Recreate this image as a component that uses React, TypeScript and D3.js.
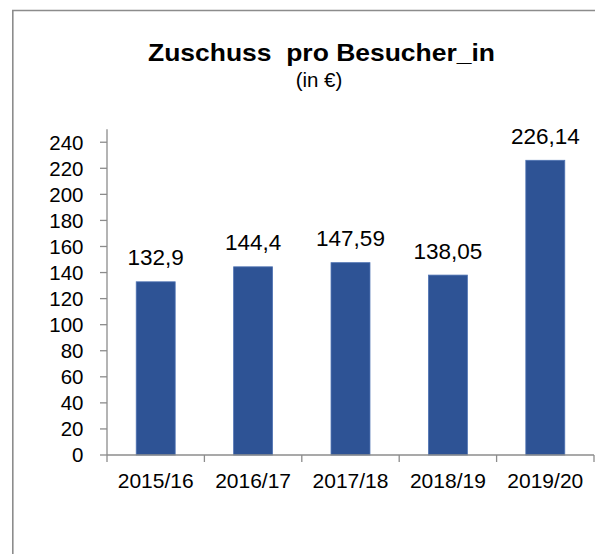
import React from "react";
import * as d3 from "d3";

const categories: string[] = ["2015/16", "2016/17", "2017/18", "2018/19", "2019/20"];
const values: number[] = [132.9, 144.4, 147.59, 138.05, 226.14];
const valueLabels: string[] = ["132,9", "144,4", "147,59", "138,05", "226,14"];
const yTicks: number[] = [0, 20, 40, 60, 80, 100, 120, 140, 160, 180, 200, 220, 240];
const title = "Zuschuss  pro Besucher_in";
const subtitle = "(in €)";

const W = 595;
const H = 554;
const FONT = "'Liberation Sans', Arial, Helvetica, sans-serif";
const AXIS = "#8c8c8c";
const BAR = "#2E5395";

export default function App() {
  const left = 107;
  const right = 594;
  const bottom = 455;
  const x = d3.scaleBand<string>().domain(categories).range([left, right]).paddingInner(0).paddingOuter(0);
  const y = d3.scaleLinear().domain([0, 250]).range([bottom, 129.2]);
  const bw = x.bandwidth() * 0.4;
  const boundaries = categories.map((c) => x(c)!).concat([right]);

  return (
    <svg width={W} height={H} style={{ position: "absolute", left: 0, top: 0, display: "block" }}>
      <rect x={0} y={0} width={W} height={H} fill="#ffffff" />
      {/* frame */}
      <line x1={12.8} y1={10} x2={12.8} y2={H} stroke={AXIS} strokeWidth={1.6} />
      <line x1={12} y1={10.5} x2={W} y2={10.5} stroke={AXIS} strokeWidth={1.6} />

      {/* titles */}
      <text x={321.5} y={61} textAnchor="middle" fontFamily={FONT} fontWeight="bold" fontSize={24}
        style={{ whiteSpace: "pre" }} textLength={347} lengthAdjust="spacingAndGlyphs">{title}</text>
      <text x={319} y={87} textAnchor="middle" fontFamily={FONT} fontSize={20.5}>{subtitle}</text>

      {/* y axis */}
      <line x1={left} y1={y(250)} x2={left} y2={bottom} stroke={AXIS} strokeWidth={1.3} />
      {yTicks.map((t) => (
        <g key={t}>
          <line x1={100} x2={left} y1={y(t)} y2={y(t)} stroke={AXIS} strokeWidth={1.3} />
          <text x={83.5} y={y(t)} dy="0.36em" textAnchor="end" fontFamily={FONT} fontSize={20.5} fill="#000">{t}</text>
        </g>
      ))}

      {/* bars */}
      {categories.map((c, i) => {
        const cx = x(c)! + x.bandwidth() / 2;
        return (
          <g key={c}>
            <rect x={cx - bw / 2} y={y(values[i])} width={bw} height={bottom - y(values[i])} fill={BAR}
              stroke="#4f73b3" strokeWidth={0.8} />
            <text x={cx} y={y(values[i]) - 16.5} textAnchor="middle" fontFamily={FONT} fontSize={22.5} fill="#000">{valueLabels[i]}</text>
            <text x={cx} y={488.3} textAnchor="middle" fontFamily={FONT} fontSize={21} fill="#000">{c}</text>
          </g>
        );
      })}

      {/* x axis */}
      <line x1={left} y1={bottom} x2={right} y2={bottom} stroke={AXIS} strokeWidth={1.3} />
      {boundaries.map((b, i) => (
        <line key={i} x1={b} x2={b} y1={bottom} y2={462} stroke={AXIS} strokeWidth={1.3} />
      ))}
    </svg>
  );
}
